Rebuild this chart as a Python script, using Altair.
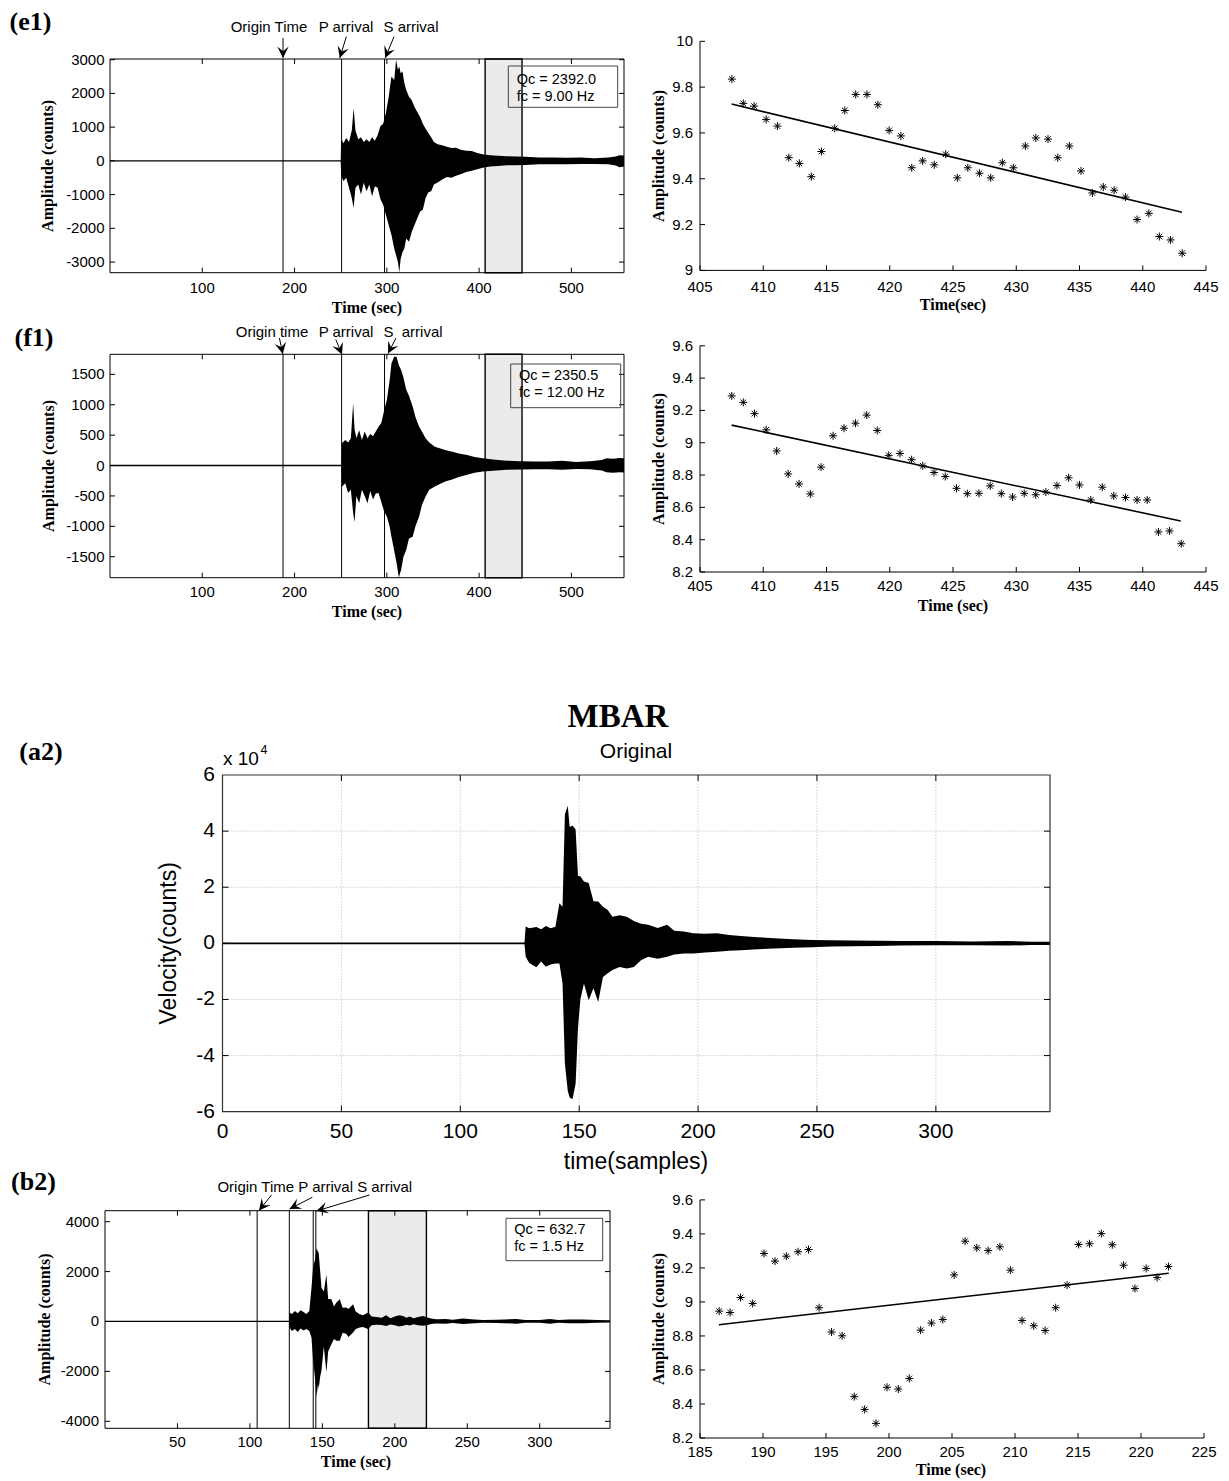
import math
import altair as alt
import pandas as pd

W, H = 1229, 1481
SANS = "Liberation Sans, Arial, Helvetica, sans-serif"
SERIF = "Liberation Serif, Times New Roman, Times, serif"

# ---------------------------------------------------------------- (e1) 9 Hz
e1_env_t = [0, 250, 250.5, 253, 256, 259, 262, 264, 266, 269, 272, 275, 278, 281, 284, 287, 290,
            293, 296, 299, 302, 305, 308, 310, 312, 313.5, 315, 317, 319, 321, 324, 327, 330, 333,
            336, 339, 342, 345, 348, 351, 355, 360, 365, 370, 375, 380, 386, 392, 398, 405, 412,
            420, 430, 440, 450, 465, 480, 495, 510, 525, 540, 548, 552, 557]
e1_env_hi = [20, 20, 650, 520, 680, 560, 900, 1560, 900, 640, 700, 560, 640, 560, 700, 600, 760,
             1030, 1100, 1420, 1900, 2500, 2400, 3000, 2700, 2800, 2600, 2650, 2300, 2100, 1900,
             1800, 1600, 1450, 1300, 1100, 950, 830, 700, 560, 490, 460, 420, 380, 390, 330, 300,
             290, 230, 190, 170, 150, 140, 130, 120, 100, 100, 90, 100, 80, 100, 130, 170, 160]
e1_env_lo = [-20, -20, -450, -600, -500, -800, -1100, -1400, -800, -700, -1000, -650, -900, -700,
             -1050, -750, -800, -1130, -1300, -1600, -1900, -2200, -2600, -2800, -3000, -3300,
             -2900, -2700, -2600, -2300, -2400, -2100, -1900, -1700, -1500, -1450, -1100, -930,
             -900, -700, -640, -550, -480, -500, -440, -400, -330, -290, -250, -200, -170, -150,
             -130, -130, -120, -100, -100, -100, -90, -90, -100, -140, -190, -170]
e1_picks = [187.5, 251.0, 297.5]
e1_window = [406.5, 446.5]
e1_fit_t = [407.52, 408.42, 409.28, 410.23, 411.12, 412.02, 412.85, 413.80, 414.60, 415.65,
            416.45, 417.31, 418.20, 419.06, 419.95, 420.88, 421.74, 422.60, 423.52, 424.42,
            425.34, 426.17, 427.09, 427.98, 428.90, 429.77, 430.72, 431.55, 432.51, 433.28,
            434.20, 435.12, 436.02, 436.88, 437.74, 438.63, 439.55, 440.48, 441.31, 442.20, 443.12]
e1_fit_amp = [9.835, 9.729, 9.717, 9.659, 9.630, 9.492, 9.467, 9.409, 9.519, 9.620, 9.698,
              9.768, 9.768, 9.723, 9.611, 9.587, 9.448, 9.478, 9.461, 9.507, 9.404, 9.448,
              9.424, 9.404, 9.470, 9.448, 9.543, 9.578, 9.573, 9.492, 9.543, 9.434, 9.338,
              9.364, 9.350, 9.320, 9.222, 9.249, 9.148, 9.133, 9.075]
e1_line_t = [407.5, 443.1]
e1_line_amp = [9.726, 9.254]
e1_legend = ["Qc = 2392.0", "fc = 9.00 Hz"]

# ---------------------------------------------------------------- (f1) 12 Hz
f1_env_t = [0, 251, 251.5, 255, 258, 261, 263.5, 265, 267, 270, 273, 276, 279, 282, 285, 288,
            291, 294, 297, 300, 303, 305, 308, 310.5, 313, 315.5, 318, 321, 324, 328, 331, 335,
            338, 342, 346, 352, 358, 364, 370, 378, 387, 395, 404, 415, 430, 445, 460, 475, 490,
            505, 520, 533, 538, 545, 552, 557]
f1_env_hi = [12, 12, 370, 420, 380, 450, 1025, 600, 450, 580, 420, 560, 450, 520, 480, 560, 640,
             700, 900, 1080, 1400, 1680, 1790, 1790, 1650, 1570, 1450, 1245, 1150, 970, 800, 640,
             560, 450, 380, 310, 280, 250, 230, 200, 175, 140, 120, 100, 80, 70, 65, 65, 80, 60,
             70, 90, 120, 110, 125, 120]
f1_env_lo = [-12, -12, -345, -290, -450, -400, -780, -930, -500, -620, -400, -500, -620, -420,
             -560, -460, -450, -600, -750, -840, -1000, -1170, -1400, -1600, -1840, -1715, -1500,
             -1390, -1200, -1170, -1000, -840, -650, -510, -400, -345, -300, -260, -235, -190,
             -150, -120, -100, -85, -70, -65, -60, -60, -70, -55, -60, -80, -110, -120, -110, -115]
f1_picks = [187.5, 251.0, 297.5]
f1_window = [406.5, 446.5]
f1_fit_t = [407.51, 408.42, 409.31, 410.23, 411.06, 411.97, 412.83, 413.72, 414.57, 415.52,
            416.38, 417.29, 418.18, 419.01, 419.92, 420.81, 421.73, 422.61, 423.50, 424.39,
            425.28, 426.13, 427.05, 427.94, 428.82, 429.71, 430.63, 431.54, 432.34, 433.22,
            434.14, 435.00, 435.89, 436.80, 437.71, 438.64, 439.55, 440.35, 441.24, 442.12, 443.04]
f1_fit_amp = [9.290, 9.250, 9.180, 9.080, 8.949, 8.807, 8.745, 8.683, 8.849, 9.043, 9.090,
              9.121, 9.171, 9.076, 8.922, 8.934, 8.895, 8.857, 8.816, 8.791, 8.718, 8.685,
              8.687, 8.733, 8.685, 8.664, 8.687, 8.678, 8.695, 8.735, 8.783, 8.739, 8.646,
              8.725, 8.671, 8.661, 8.646, 8.646, 8.448, 8.454, 8.375]
f1_line_t = [407.5, 443.0]
f1_line_amp = [9.109, 8.516]
f1_legend = ["Qc = 2350.5", "fc = 12.00 Hz"]

# ---------------------------------------------------------------- (a2) MBAR original record
a2_env_t = [0, 127, 127.5, 129, 132, 134, 136, 138, 140, 141.7, 143, 144, 145.2, 146, 147.2,
            148.5, 149.5, 150.5, 152, 154, 156, 158, 160, 162, 164, 167, 170, 173, 176, 179,
            183, 187, 190, 194, 198, 203, 208, 213, 218, 225, 232, 240, 248, 256, 265, 275,
            285, 300, 315, 330, 340, 348]
a2_env_hi = [300, 300, 6000, 5400, 5800, 5000, 6200, 5400, 5900, 14300, 13000, 46000, 49000,
             41500, 42000, 40600, 24000, 23900, 22000, 21500, 15000, 14900, 13000, 11900, 9500,
             10000, 9500, 8000, 7000, 6600, 5500, 6600, 4500, 4200, 3600, 3400, 3600, 3000, 2600,
             2200, 1800, 1500, 1200, 1100, 1000, 900, 800, 800, 700, 800, 600, 600]
a2_env_lo = [-300, -300, -4800, -7000, -8500, -6500, -8300, -7500, -7200, -7200, -14300, -43000,
             -52500, -55000, -55500, -50000, -30000, -20000, -14300, -20300, -16000, -20900,
             -12000, -10700, -9500, -8400, -9000, -8400, -6000, -4800, -5500, -4800, -4000,
             -3600, -3600, -3300, -3000, -2600, -2500, -2100, -1800, -1600, -1400, -1100, -1000,
             -900, -800, -700, -700, -800, -600, -600]

# ---------------------------------------------------------------- (b2) 1.5 Hz
b2_env_t = [0, 127, 127.3, 129, 131, 133, 135, 137, 139, 141, 142.5, 143.6, 145, 146, 147,
            147.5, 148.5, 149.4, 151, 152.8, 154, 156.3, 158, 159.7, 162, 164, 166.6, 168,
            171.2, 173, 175.8, 178, 181.6, 184, 187.3, 191, 194, 197, 200, 203, 205.7, 208,
            210.3, 213, 216, 219.5, 222, 225, 228.7, 235, 240, 247, 255, 261, 270, 276, 284,
            290, 300, 307, 313, 320, 330, 340, 348.5]
b2_env_hi = [25, 25, 360, 300, 420, 330, 450, 380, 300, 420, 1350, 2150, 2500, 2940, 2800,
             2750, 2000, 1350, 1200, 1880, 900, 890, 600, 760, 890, 550, 560, 500, 690, 400,
             290, 250, 360, 200, 185, 150, 250, 130, 200, 250, 225, 150, 200, 130, 180, 225,
             170, 120, 90, 100, 70, 120, 80, 60, 70, 80, 100, 60, 60, 100, 60, 80, 80, 60, 50]
b2_env_lo = [-25, -25, -240, -380, -300, -420, -280, -360, -300, -380, -640, -1560, -2300,
             -3020, -2500, -2690, -2200, -1960, -1000, -2030, -1200, -900, -700, -770, -770,
             -450, -500, -620, -440, -300, -240, -220, -300, -150, -130, -140, -180, -120, -150,
             -200, -170, -130, -160, -110, -150, -170, -150, -100, -80, -90, -60, -100, -70, -50,
             -60, -70, -90, -55, -55, -90, -50, -70, -70, -50, -45]
b2_picks = [105.0, 127.2, 143.7, 145.5]
b2_window = [181.8, 221.8]
b2_fit_t = [186.52, 187.39, 188.22, 189.18, 190.08, 190.95, 191.85, 192.78, 193.61, 194.45,
            195.44, 196.28, 197.24, 198.07, 198.97, 199.84, 200.74, 201.61, 202.51, 203.37,
            204.27, 205.17, 206.04, 206.97, 207.87, 208.80, 209.63, 210.56, 211.49, 212.39,
            213.23, 214.13, 215.05, 215.92, 216.85, 217.72, 218.62, 219.52, 220.41, 221.28, 222.18]
b2_fit_amp = [8.946, 8.938, 9.026, 8.991, 9.285, 9.240, 9.269, 9.295, 9.308, 8.966, 8.823,
              8.801, 8.443, 8.368, 8.286, 8.498, 8.488, 8.550, 8.834, 8.876, 8.897, 9.159,
              9.357, 9.318, 9.302, 9.324, 9.187, 8.891, 8.860, 8.832, 8.966, 9.099, 9.338,
              9.342, 9.402, 9.336, 9.216, 9.079, 9.197, 9.144, 9.208]
b2_line_t = [186.5, 222.2]
b2_line_amp = [8.866, 9.169]
b2_legend = ["Qc = 632.7", "fc = 1.5 Hz"]

# ---------------------------------------------------------------- tick values
wave_x_ticks = [100, 200, 300, 400, 500]
e1_y_ticks = [-3000, -2000, -1000, 0, 1000, 2000, 3000]
f1_y_ticks = [-1500, -1000, -500, 0, 500, 1000, 1500]
b2_x_ticks = [50, 100, 150, 200, 250, 300]
b2_y_ticks = [-4000, -2000, 0, 2000, 4000]
e1_fit_x_ticks = [405, 410, 415, 420, 425, 430, 435, 440, 445]
e1_fit_y_ticks = [9, 9.2, 9.4, 9.6, 9.8, 10]
f1_fit_y_ticks = [8.2, 8.4, 8.6, 8.8, 9, 9.2, 9.4, 9.6]
b2_fit_x_ticks = [185, 190, 195, 200, 205, 210, 215, 220, 225]
b2_fit_y_ticks = [8.2, 8.4, 8.6, 8.8, 9, 9.2, 9.4, 9.6]
a2_x_ticks = [0, 50, 100, 150, 200, 250, 300]
a2_y_ticks = [-60000, -40000, -20000, 0, 20000, 40000, 60000]

# ---------------------------------------------------------------- page placement (pixels)
FRAMES = {
    "e1_wave": {"x": (110, 624), "y": (272.7, 59.0)},
    "e1_fit": {"x": (700, 1206), "y": (270.4, 41.3)},
    "f1_wave": {"x": (110, 624), "y": (577.7, 354.3)},
    "f1_fit": {"x": (700, 1206), "y": (572.0, 345.8)},
    "a2": {"x": (222.5, 1050), "y": (1111.7, 775.0)},
    "b2_wave": {"x": (105, 610), "y": (1428.3, 1210.7)},
    "b2_fit": {"x": (700, 1204), "y": (1438.0, 1199.9)},
}


def scl(dom, rng):
    return alt.Scale(domain=list(dom), range=list(rng), nice=False, zero=False)


def fmt(v, div=1):
    return f"{v / div:g}"


def tick_labels(fr, xs, ys, xvals, yvals, xpad, ypad, size, div=1):
    """Numeric tick labels placed through the panel's own scales."""
    xdf = pd.DataFrame({"v": xvals, "lab": [fmt(v) for v in xvals]})
    ydf = pd.DataFrame({"v": yvals, "lab": [fmt(v, div) for v in yvals]})
    xl = alt.Chart(xdf).mark_text(font=SANS, fontSize=size, color="black", align="center",
                                  baseline="middle").encode(
        x=alt.X("v:Q", scale=xs, axis=None), y=alt.value(fr["y"][0] + xpad), text="lab:N")
    yl = alt.Chart(ydf).mark_text(font=SANS, fontSize=size, color="black", align="right",
                                  baseline="middle").encode(
        y=alt.Y("v:Q", scale=ys, axis=None), x=alt.value(fr["x"][0] - ypad), text="lab:N")
    return [xl, yl]


def inner_ticks(fr, xs, ys, xvals, yvals, length, sides=("b", "t", "l", "r")):
    """Short tick marks drawn inside the axes box."""
    out = []
    xdf = pd.DataFrame({"v": xvals})
    ydf = pd.DataFrame({"v": yvals})
    yb, yt = fr["y"]
    xl, xr = fr["x"]
    if "b" in sides:
        out.append(alt.Chart(xdf).mark_rule(color="black", strokeWidth=1).encode(
            x=alt.X("v:Q", scale=xs, axis=None), y=alt.value(yb), y2=alt.value(yb - length)))
    if "t" in sides:
        out.append(alt.Chart(xdf).mark_rule(color="black", strokeWidth=1).encode(
            x=alt.X("v:Q", scale=xs, axis=None), y=alt.value(yt), y2=alt.value(yt + length)))
    if "l" in sides:
        out.append(alt.Chart(ydf).mark_rule(color="black", strokeWidth=1).encode(
            y=alt.Y("v:Q", scale=ys, axis=None), x=alt.value(xl), x2=alt.value(xl + length)))
    if "r" in sides:
        out.append(alt.Chart(ydf).mark_rule(color="black", strokeWidth=1).encode(
            y=alt.Y("v:Q", scale=ys, axis=None), x=alt.value(xr), x2=alt.value(xr - length)))
    return out


def wave_panel(key, xdom, ydom, t, hi, lo, picks, window, xticks, yticks, xpad, ypad):
    fr = FRAMES[key]
    xs, ys = scl(xdom, fr["x"]), scl(ydom, fr["y"])
    box = pd.DataFrame({"x0": [xdom[0]], "x1": [xdom[1]], "y0": [ydom[0]], "y1": [ydom[1]]})
    win = pd.DataFrame({"a": [window[0]], "b": [window[1]],
                        "y0": [ydom[0]], "y1": [ydom[1]]})
    wave = pd.DataFrame({"t": t, "hi": hi, "lo": lo})
    pk = pd.DataFrame({"t": picks, "y0": ydom[0], "y1": ydom[1]})

    shade = alt.Chart(win).mark_rect(fill="#ebebeb", stroke="black", strokeWidth=1.4).encode(
        x=alt.X("a:Q", scale=xs, axis=None), x2="b:Q",
        y=alt.Y("y0:Q", scale=ys, axis=None), y2="y1:Q")
    trace = alt.Chart(wave).mark_area(color="black", opacity=1).encode(
        x=alt.X("t:Q", scale=xs, axis=None),
        y=alt.Y("hi:Q", scale=ys, axis=None), y2="lo:Q")
    lines = alt.Chart(pk).mark_rule(color="black", strokeWidth=1).encode(
        x=alt.X("t:Q", scale=xs, axis=None),
        y=alt.Y("y0:Q", scale=ys, axis=None), y2="y1:Q")
    frame = alt.Chart(box).mark_rect(filled=False, stroke="black", strokeWidth=1).encode(
        x=alt.X("x0:Q", scale=xs, axis=None), x2="x1:Q",
        y=alt.Y("y0:Q", scale=ys, axis=None), y2="y1:Q")
    return alt.layer(shade, trace, lines, frame,
                     *inner_ticks(fr, xs, ys, xticks, yticks, 5),
                     *tick_labels(fr, xs, ys, xticks, yticks, xpad, ypad, 15))


def fit_panel(key, xdom, ydom, t, amp, line_t, line_amp, xticks, yticks, xpad, ypad):
    fr = FRAMES[key]
    xs, ys = scl(xdom, fr["x"]), scl(ydom, fr["y"])
    pts = pd.DataFrame({"t": t, "amp": amp})
    fit = pd.DataFrame({"t": line_t, "amp": line_amp})
    edges = pd.DataFrame({"x0": [xdom[0], xdom[0]], "x1": [xdom[0], xdom[1]],
                          "y0": [ydom[0], ydom[0]], "y1": [ydom[1], ydom[0]]})
    star = "M-1,0L1,0M0,-1L0,1M-0.7,-0.7L0.7,0.7M-0.7,0.7L0.7,-0.7"
    axes = alt.Chart(edges).mark_rule(color="black", strokeWidth=1).encode(
        x=alt.X("x0:Q", scale=xs, axis=None), x2="x1:Q",
        y=alt.Y("y0:Q", scale=ys, axis=None), y2="y1:Q")
    stars = alt.Chart(pts).mark_point(shape=star, filled=False, stroke="black",
                                      strokeWidth=1, size=64, opacity=1).encode(
        x=alt.X("t:Q", scale=xs, axis=None), y=alt.Y("amp:Q", scale=ys, axis=None))
    trend = alt.Chart(fit).mark_line(color="black", strokeWidth=1.6).encode(
        x=alt.X("t:Q", scale=xs, axis=None), y=alt.Y("amp:Q", scale=ys, axis=None))
    return alt.layer(axes, stars, trend,
                     *inner_ticks(fr, xs, ys, xticks, yticks, 5, ("b", "l")),
                     *tick_labels(fr, xs, ys, xticks, yticks, xpad, ypad, 15))


def original_panel():
    fr = FRAMES["a2"]
    xdom, ydom = [0, 348], [-60000, 60000]
    xs, ys = scl(xdom, fr["x"]), scl(ydom, fr["y"])
    box = pd.DataFrame({"x0": [xdom[0]], "x1": [xdom[1]], "y0": [ydom[0]], "y1": [ydom[1]]})
    wave = pd.DataFrame({"t": a2_env_t, "hi": a2_env_hi, "lo": a2_env_lo})
    gx = pd.DataFrame({"v": a2_x_ticks[1:], "y0": ydom[0], "y1": ydom[1]})
    gy = pd.DataFrame({"v": a2_y_ticks[1:-1], "x0": xdom[0], "x1": xdom[1]})
    grid_x = alt.Chart(gx).mark_rule(color="#b8b8b8", strokeWidth=1, strokeDash=[1, 2]).encode(
        x=alt.X("v:Q", scale=xs, axis=None), y=alt.Y("y0:Q", scale=ys, axis=None), y2="y1:Q")
    grid_y = alt.Chart(gy).mark_rule(color="#b8b8b8", strokeWidth=1, strokeDash=[1, 2]).encode(
        y=alt.Y("v:Q", scale=ys, axis=None), x=alt.X("x0:Q", scale=xs, axis=None), x2="x1:Q")
    trace = alt.Chart(wave).mark_area(color="black", opacity=1).encode(
        x=alt.X("t:Q", scale=xs, axis=None),
        y=alt.Y("hi:Q", scale=ys, axis=None), y2="lo:Q")
    frame = alt.Chart(box).mark_rect(filled=False, stroke="#333333", strokeWidth=1.2).encode(
        x=alt.X("x0:Q", scale=xs, axis=None), x2="x1:Q",
        y=alt.Y("y0:Q", scale=ys, axis=None), y2="y1:Q")
    return alt.layer(grid_x, grid_y, trace, frame,
                     *inner_ticks(fr, xs, ys, a2_x_ticks[1:], a2_y_ticks[1:-1], 6),
                     *tick_labels(fr, xs, ys, a2_x_ticks, a2_y_ticks, 20.3, 7.5, 21, 10000))


# ---------------------------------------------------------------- annotations (pixels)
def text_layer(rows, font, size, weight="normal", align="center", angle=0):
    df = pd.DataFrame(rows, columns=["txt", "px", "py"])
    return alt.Chart(df).mark_text(font=font, fontSize=size, fontWeight=weight, align=align,
                                   baseline="middle", color="black", angle=angle).encode(
        x=alt.X("px:Q", scale=None, axis=None), y=alt.Y("py:Q", scale=None, axis=None),
        text="txt:N")


ARROWS = [  # tail x, tail y, tip x, tip y
    (283.0, 38.0, 283.0, 58.0), (346.3, 36.7, 339.8, 58.0), (394.0, 36.7, 385.2, 58.0),
    (279.4, 338.0, 282.8, 354.0), (335.8, 339.5, 342.0, 354.5), (396.0, 338.0, 388.0, 353.5),
    (271.5, 1195.0, 259.0, 1210.5), (312.3, 1197.3, 289.5, 1209.0), (369.5, 1195.0, 316.4, 1211.0),
]


def arrow_layers():
    rows = []
    for x0, y0, x1, y1 in ARROWS:
        ang = math.degrees(math.atan2(-(x1 - x0), (y1 - y0))) % 360
        rows.append({"x0": x0, "y0": y0, "x1": x1, "y1": y1, "ang": ang})
    df = pd.DataFrame(rows)
    shaft = alt.Chart(df).mark_rule(color="black", strokeWidth=1).encode(
        x=alt.X("x0:Q", scale=None, axis=None), y=alt.Y("y0:Q", scale=None, axis=None),
        x2="x1:Q", y2="y1:Q")
    head = alt.Chart(df).mark_point(shape="M0,0L-0.5,-1L0,-0.6L0.5,-1Z", filled=True,
                                    color="black", size=520, opacity=1).encode(
        x=alt.X("x1:Q", scale=None, axis=None), y=alt.Y("y1:Q", scale=None, axis=None),
        angle=alt.Angle("ang:Q", scale=None))
    return [shaft, head]


LEGEND_BOXES = pd.DataFrame({
    "x0": [508.3, 510.7, 506.0], "x1": [617.7, 620.7, 602.7],
    "y0": [66.0, 364.0, 1218.3], "y1": [107.3, 407.7, 1260.7]})

legend_frames = alt.Chart(LEGEND_BOXES).mark_rect(filled=False, stroke="#444444",
                                                  strokeWidth=1).encode(
    x=alt.X("x0:Q", scale=None, axis=None), x2="x1:Q",
    y=alt.Y("y0:Q", scale=None, axis=None), y2="y1:Q")

legend_text = text_layer([
    (e1_legend[0], 516.7, 80.0), (e1_legend[1], 516.7, 96.7),
    (f1_legend[0], 519.0, 376.0), (f1_legend[1], 519.0, 393.3),
    (b2_legend[0], 514.3, 1230.0), (b2_legend[1], 514.3, 1246.7),
], SANS, 14.5, align="left")

pick_text = text_layer([
    ("Origin Time", 269, 26.7), ("P arrival", 346, 26.7), ("S arrival", 411, 26.7),
    ("Origin time", 272, 331.7), ("P arrival", 346, 331.7), ("S\u00a0 arrival", 413, 331.7),
    ("Origin Time P arrival S arrival", 314.8, 1186.7),
], SANS, 15)

x_titles = text_layer([
    ("Time (sec)", 367, 308.3), ("Time(sec)", 953, 305), ("Time (sec)", 367, 611.7),
    ("Time (sec)", 953, 605.5), ("Time (sec)", 356, 1461.7), ("Time (sec)", 951, 1470),
], SERIF, 16, "bold")
y_titles = text_layer([
    ("Amplitude (counts)", 48, 165.9), ("Amplitude (counts)", 658.8, 155.9),
    ("Amplitude (counts)", 49, 466), ("Amplitude (counts)", 658.8, 458.9),
    ("Amplitude (counts)", 45, 1319.5), ("Amplitude (counts)", 658.8, 1319.0),
], SERIF, 16, "bold", angle=270)
a2_x_title = text_layer([("time(samples)", 636, 1161.7)], SANS, 23)
a2_y_title = text_layer([("Velocity(counts)", 168.7, 943.3)], SANS, 23, angle=270)

panel_tags = text_layer([("(e1)", 30.5, 21.5), ("(f1)", 34, 338), ("(a2)", 41, 752),
                         ("(b2)", 33.5, 1182)], SERIF, 26, "bold")
station = text_layer([("MBAR", 618, 716.7)], SERIF, 33, "bold")
subtitle = text_layer([("Original", 636, 751.7)], SANS, 21)
exp_base = text_layer([("x 10", 223, 759)], SANS, 19, align="left")
exp_pow = text_layer([("4", 260.5, 750)], SANS, 12.5, align="left")

panels = [
    wave_panel("e1_wave", [0, 557], [-3315, 3020], e1_env_t, e1_env_hi, e1_env_lo, e1_picks,
               e1_window, wave_x_ticks, e1_y_ticks, 15.6, 5.5),
    fit_panel("e1_fit", [405, 445], [9, 10], e1_fit_t, e1_fit_amp, e1_line_t, e1_line_amp,
              e1_fit_x_ticks, e1_fit_y_ticks, 16.5, 7),
    wave_panel("f1_wave", [0, 557], [-1845, 1830], f1_env_t, f1_env_hi, f1_env_lo, f1_picks,
               f1_window, wave_x_ticks, f1_y_ticks, 14, 5.5),
    fit_panel("f1_fit", [405, 445], [8.2, 9.6], f1_fit_t, f1_fit_amp, f1_line_t, f1_line_amp,
              e1_fit_x_ticks, f1_fit_y_ticks, 14, 7),
    original_panel(),
    wave_panel("b2_wave", [0, 348.5], [-4280, 4440], b2_env_t, b2_env_hi, b2_env_lo, b2_picks,
               b2_window, b2_x_ticks, b2_y_ticks, 13.4, 6),
    fit_panel("b2_fit", [185, 225], [8.2, 9.6], b2_fit_t, b2_fit_amp, b2_line_t, b2_line_amp,
              b2_fit_x_ticks, b2_fit_y_ticks, 13.5, 7),
]

chart = alt.layer(
    *panels, legend_frames, legend_text, pick_text, *arrow_layers(), x_titles, y_titles,
    a2_x_title, a2_y_title, panel_tags, station, subtitle, exp_base, exp_pow,
).resolve_scale(x="independent", y="independent").properties(
    width=W, height=H, padding=0, autosize=alt.AutoSizeParams(type="none"),
    background="white",
).configure_view(stroke=None)

chart.save("out.html", embed_options={"renderer": "svg", "actions": False})
